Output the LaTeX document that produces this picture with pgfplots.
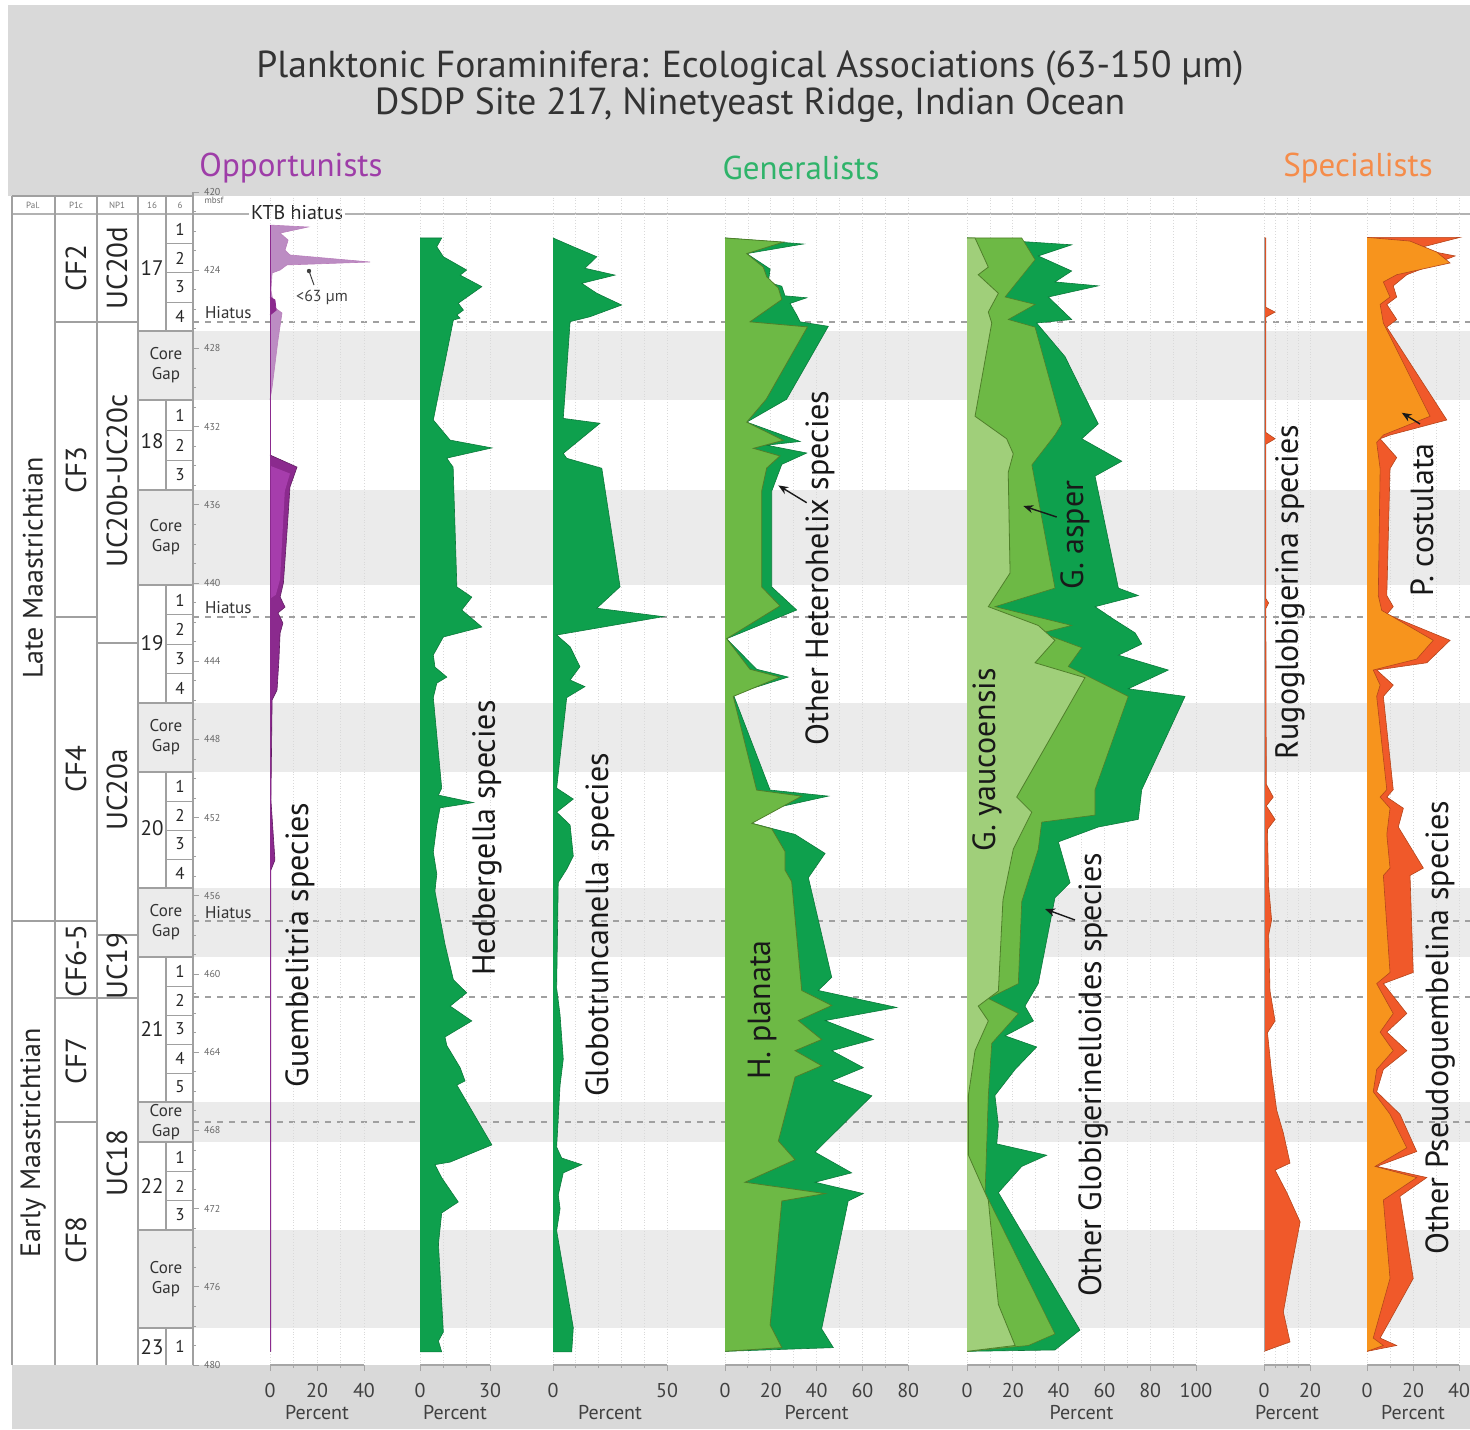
\documentclass[border=0pt]{standalone}
\usepackage{pgfplots}
\pgfplotsset{compat=1.18}
\usepackage{fontspec}
\setmainfont{PT Sans}
\usetikzlibrary{arrows.meta}
\definecolor{topgray}{HTML}{D9D9D9}
\definecolor{bandgray}{HTML}{EBEBEB}
\definecolor{sline}{HTML}{A0A0A0}
\definecolor{gdark}{HTML}{0EA04D}
\definecolor{gline}{HTML}{0B7A3B}
\definecolor{glight}{HTML}{6DB945}
\definecolor{gpale}{HTML}{A0CF7A}
\definecolor{golive}{HTML}{4F7F2A}
\definecolor{purD}{HTML}{8B2A8E}
\definecolor{purM}{HTML}{A63DAC}
\definecolor{purL}{HTML}{BC8CC3}
\definecolor{oraD}{HTML}{F0592A}
\definecolor{oraL}{HTML}{F7941D}
\definecolor{oraline}{HTML}{B5461C}
\definecolor{tpurple}{HTML}{9E3DA8}
\definecolor{tgreen}{HTML}{2FB36A}
\definecolor{torange}{HTML}{F58C4A}
\newcommand{\fs}[1]{\fontsize{#1}{#1}\selectfont}
\pgfplotsset{
  panel/.style={scale only axis, height=586.5pt, ymin=420, ymax=480, y dir=reverse,
    axis y line=none, axis x line*=bottom, clip=false, anchor=north west,
    tick align=outside, major tick length=3pt, minor tick length=1.6pt,
    x axis line style={gray!70, line width=0.6pt},
    tick style={gray!70, line width=0.5pt},
    /pgf/number format/assume math mode=true,
    xticklabel style={font=\fs{10}, text=black!75, yshift=-2.5pt},
    xlabel={Percent}, xlabel style={font=\fs{10}, text=black!75, yshift=3pt},
    xmajorgrids, xminorgrids,
    major grid style={gray!30, densely dotted, line width=0.4pt},
    minor grid style={gray!30, densely dotted, line width=0.4pt},
  },
}
\begin{document}
\begin{tikzpicture}
\useasboundingbox (0,0) rectangle (735pt,-714.5pt);
\begin{scope}[x=0.5pt,y=-0.5pt]
 \fill[topgray] (8,5) rectangle (1470,196);
 \fill[topgray] (12,1365) rectangle (1470,1429);
 \coordinate (BG) at (138,192);
 \coordinate (DP) at (192,192);
 \coordinate (P1) at (270,192);
 \coordinate (P2) at (420,192);
 \coordinate (P3) at (553,192);
 \coordinate (P4) at (725,192);
 \coordinate (P5) at (967,192);
 \coordinate (P6) at (1264,192);
 \coordinate (P7) at (1367,192);
\end{scope}
% background bands and hiatus lines
\begin{axis}[at={(BG)}, anchor=north west, scale only axis, width=666pt, height=586.5pt,
  xmin=138, xmax=1470, ymin=420, ymax=480, y dir=reverse, hide axis, clip=false]
\addplot[fill=bandgray, draw=none] coordinates {(138,427.11) (1470,427.11) (1470,430.64) (138,430.64)};
\addplot[fill=bandgray, draw=none] coordinates {(138,435.24) (1470,435.24) (1470,440.10) (138,440.10)};
\addplot[fill=bandgray, draw=none] coordinates {(138,446.14) (1470,446.14) (1470,449.67) (138,449.67)};
\addplot[fill=bandgray, draw=none] coordinates {(138,455.60) (1470,455.60) (1470,459.13) (138,459.13)};
\addplot[fill=bandgray, draw=none] coordinates {(138,466.55) (1470,466.55) (1470,468.59) (138,468.59)};
\addplot[fill=bandgray, draw=none] coordinates {(138,473.10) (1470,473.10) (1470,478.11) (138,478.11)};
\addplot[sline, line width=0.6pt, dash pattern=on 3pt off 3pt] coordinates {(193,426.65) (1470,426.65)};
\addplot[sline, line width=0.6pt, dash pattern=on 3pt off 3pt] coordinates {(193,441.74) (1470,441.74)};
\addplot[sline, line width=0.6pt, dash pattern=on 3pt off 3pt] coordinates {(193,457.29) (1470,457.29)};
\addplot[sline, line width=0.6pt, dash pattern=on 3pt off 3pt] coordinates {(193,461.18) (1470,461.18)};
\addplot[sline, line width=0.6pt, dash pattern=on 3pt off 3pt] coordinates {(193,467.57) (1470,467.57)};
\end{axis}
% stratigraphic columns
\begin{scope}[x=0.5pt,y=-0.5pt]
 \draw[sline, line width=0.7pt] (12,196) -- (193,196);
 \draw[gray!60, line width=1pt] (12,214) -- (1470,214);
 \foreach \xx in {12,55,97,138,193} \draw[sline, line width=0.7pt] (\xx,196) -- (\xx,1365);
 \draw[sline, line width=0.7pt] (166,196) -- (166,331) (166,400) -- (166,490) (166,585) -- (166,703)
   (166,772) -- (166,888) (166,957) -- (166,1102) (166,1142) -- (166,1230) (166,1328) -- (166,1365);
 \draw[sline, line width=0.7pt] (12,921) -- (97,921) (55,322) -- (138,322) (55,617) -- (97,617)
   (97,643) -- (138,643) (97,935) -- (138,935) (55,998) -- (138,998) (55,1122) -- (97,1122);
 \foreach \yy in {331,400,490,585,703,772,888,957,1102,1142,1230,1328} \draw[sline, line width=0.7pt] (138,\yy) -- (193,\yy);
 \foreach \yy in {243,272,302,430,460,614.5,644,673.5,801,830,859,986,1015,1044,1073,1171.3,1200.7} \draw[sline, line width=0.5pt] (166,\yy) -- (193,\yy);
 \foreach \xx/\tt in {33/Pal.,76/P1c,117/NP1,152/16,180/6} \node[font=\fs{4.5}, text=black!55] at (\xx,205) {\tt};
 \node[rotate=90, font=\fs{14}, text=black!85] at (33,568) {Late Maastrichtian};
 \node[rotate=90, font=\fs{14}, text=black!85] at (33,1143) {Early Maastrichtian};
 \foreach \yy/\tt in {268/CF2,470/CF3,769/CF4,961/CF6-5,1061/CF7,1240/CF8} \node[rotate=90, font=\fs{14.5}, text=black!85] at (76,\yy) {\tt};
 \foreach \yy/\tt in {268/UC20d,481/UC20b-UC20c,790/UC20a,966/UC19,1163/UC18} \node[rotate=90, font=\fs{14.5}, text=black!85] at (117,\yy) {\tt};
 \foreach \yy/\tt in {268/17,441/18,643/19,828/20,1029/21,1186/22,1347/23} \node[font=\fs{10.5}, text=black!85] at (152,\yy) {\tt};
 \foreach \yy/\tt in {229/1,258/2,287/3,316/4,415/1,445/2,475/3,600/1,629/2,659/3,688/4,786/1,815/2,844/3,873/4,971/1,1000/2,1029/3,1058/4,1087/5,1157/1,1186/2,1215/3,1346/1}
   \node[font=\fs{8.5}, text=black!85] at (180,\yy) {\tt};
 \foreach \yy in {365,537,737,922,1122,1279} \node[align=center, font=\fontsize{8.5}{10}\selectfont, text=black!80] at (166,\yy) {Core\\Gap};
 \node[anchor=west, font=\fs{8.5}, text=black!80] at (198,313) {Hiatus};
 \node[anchor=west, font=\fs{8.5}, text=black!80] at (198,608) {Hiatus};
 \node[anchor=west, font=\fs{8.5}, text=black!80] at (198,913) {Hiatus};
 \node[fill=white, inner sep=1pt, font=\fs{10}, text=black!85] at (297,213) {KTB hiatus};
 \node[font=\fs{4.5}, text=black!60] at (214,200) {mbsf};
\end{scope}
% depth scale
\begin{axis}[at={(DP)}, anchor=north west, scale only axis, width=0.5pt, height=586.5pt,
  xmin=0, xmax=1, ymin=420, ymax=480, y dir=reverse, axis x line=none, axis y line*=right,
  ytick={420,424,...,480}, minor y tick num=3, tick align=outside, major tick length=3pt, minor tick length=1.5pt,
  y axis line style={sline, line width=0.7pt}, tick style={sline, line width=0.4pt},
  /pgf/number format/assume math mode=true, /pgf/number format/1000 sep={},
  yticklabel style={font=\fs{5}, text=black!60, xshift=-1pt}, clip=false]
\addplot[draw=none] coordinates {(0,420) (0,480)};
\end{axis}
% Panel 1: Guembelitria
\begin{axis}[panel, at={(P1)}, width=47pt, xmin=0, xmax=40, xtick={0,20,40}, minor xtick={10,30}]
\addplot[fill=purL, draw=purD!60, line width=0.3pt] coordinates {(0,421.69) (16.2,421.79) (4.3,422.10) (7.7,422.46) (6.4,422.97) (8.5,423.22) (42.6,423.58) (7.2,423.73) (4.3,423.99) (0.9,424.14) (0.4,425.01) (1.7,425.88) (5.1,426.19) (3.4,427.57) (0.9,429.97) (0,430.64)};
\addplot[fill=purD, draw=purD] coordinates {(0,425.37) (2.1,425.52) (2.6,426.04) (0,426.29)};
\addplot[fill=purD, draw=purD!70!black, line width=0.3pt] coordinates {(0,433.45) (11.5,434.07) (8.5,435.09) (7.2,437.44) (5.7,440.00) (4.3,440.72) (6.4,441.23) (3.4,441.53) (5.5,442.05) (4.3,442.56) (3.8,443.94) (3.0,445.47) (0.9,445.98) (0.4,451.10) (2.1,454.17) (0.4,454.68) (0.4,479.30) (0,479.30)};
\addplot[fill=purM, draw=none] coordinates {(0,434.0) (8.5,434.4) (6.3,435.3) (5.3,437.5) (4.3,439.8) (2.5,440.6) (0,440.8)};
\addplot[purD, line width=0.5pt] coordinates {(0,421.69) (0,479.30)};
\end{axis}
% Panel 2: Hedbergella
\begin{axis}[panel, at={(P2)}, width=35pt, xmin=0, xmax=30, xtick={0,30}, minor xtick={10,20}]
\addplot[fill=gdark, draw=gline, line width=0.3pt] coordinates {(0,422.35) (9.3,422.35) (7.2,422.80) (10.0,423.31) (20.0,423.99) (17.2,424.25) (26.5,424.84) (16.4,425.69) (18.6,426.04) (15.8,426.29) (17.2,426.45) (14.3,426.55) (5.7,431.66) (12.9,432.69) (30.8,433.09) (11.5,433.61) (12.9,433.86) (14.2,434.07) (15.8,440.20) (22.2,440.72) (17.9,441.38) (26.5,442.25) (10.0,442.76) (5.7,443.68) (6.4,444.30) (11.5,444.81) (7.2,445.12) (5.7,445.86) (9.3,450.49) (7.9,450.85) (22.9,451.23) (8.6,451.50) (7.2,452.38) (5.7,453.76) (7.2,454.89) (6.4,455.76) (10.7,458.47) (14.3,460.29) (20.0,460.96) (12.9,461.64) (22.2,462.40) (10.7,463.22) (11.5,463.66) (17.2,464.79) (19.3,465.47) (15.8,465.68) (30.8,468.74) (12.9,469.62) (6.4,469.75) (9.3,470.42) (16.4,471.66) (9.3,472.22) (7.9,473.81) (10.0,478.31) (7.9,478.77) (9.3,479.33) (0,479.33)};
\end{axis}
% Panel 3: Globotruncanella
\begin{axis}[panel, at={(P3)}, width=57pt, xmin=0, xmax=50, xtick={0,50}, minor xtick={10,20,30,40}]
\addplot[fill=gdark, draw=gline, line width=0.3pt] coordinates {(0,422.35) (8.9,422.80) (19.2,423.31) (14.0,423.90) (27.2,424.25) (12.6,424.67) (19.2,425.18) (30.1,425.78) (16.2,426.38) (7.5,426.63) (4.5,431.58) (20.6,431.83) (4.5,433.37) (6.0,433.62) (21.4,434.13) (29.4,440.19) (19.2,441.29) (48.4,441.72) (1.6,442.66) (7.5,443.26) (11.8,444.28) (7.5,444.96) (14.0,445.30) (6.0,445.86) (1.6,450.49) (8.9,451.05) (1.6,451.72) (7.5,452.38) (8.9,453.97) (6.0,454.64) (2.3,455.32) (1.6,460.72) (3.1,462.10) (4.5,464.35) (3.1,465.68) (1.6,468.85) (3.8,469.41) (12.6,469.75) (4.5,470.17) (2.3,471.30) (3.1,472.00) (1.6,473.13) (8.9,478.09) (8.2,479.33) (0,479.33)};
\end{axis}
% Panel 4: Heterohelix
\begin{axis}[panel, at={(P4)}, width=91.6pt, xmin=0, xmax=80, xtick={0,20,...,80}, minor xtick={10,30,50,70}]
\addplot[fill=gdark, draw=gline, line width=0.3pt] coordinates {(0,422.35) (34.2,422.66) (9.5,423.15) (19.7,423.94) (18.9,424.62) (24.8,424.82) (26.2,425.31) (35.7,425.41) (28.4,425.70) (31.3,426.29) (32.8,426.64) (45.1,426.87) (26.9,430.60) (9.5,431.77) (32.8,432.76) (18.2,432.95) (35.7,433.35) (24.8,433.93) (20.4,435.30) (20.4,440.20) (31.3,441.38) (0.7,442.85) (13.8,444.41) (27.6,444.81) (3.6,445.69) (19.7,450.59) (45.1,450.90) (21.1,451.52) (11.7,452.29) (30.6,452.86) (43.7,453.83) (36.4,455.07) (46.6,460.17) (40.7,460.84) (75.0,461.71) (43.7,462.38) (64.8,463.35) (46.6,463.92) (60.4,464.79) (46.6,465.46) (64.1,466.23) (39.3,469.11) (55.3,470.17) (39.3,470.65) (60.4,471.23) (53.8,471.61) (42.2,478.15) (47.3,479.11) (0,479.30)};
\addplot[fill=glight, draw=golive, line width=0.4pt] coordinates {(0,422.35) (25.5,422.56) (9.5,423.15) (16.7,423.84) (18.2,424.33) (23.3,424.91) (24.8,425.50) (10.9,426.64) (36.0,426.90) (18.0,430.60) (9.5,431.77) (25.5,432.70) (12.4,433.11) (24.0,433.50) (18.2,434.12) (16.0,435.30) (16.0,440.20) (24.0,441.17) (0.7,442.85) (10.9,444.41) (24.0,444.81) (3.6,445.80) (13.8,450.59) (33.5,450.90) (11.7,452.29) (20.4,452.57) (26.2,453.73) (26.2,454.68) (29.1,455.27) (33.5,460.84) (46.6,461.61) (32.0,462.38) (42.2,463.35) (30.6,463.92) (42.2,464.69) (30.6,465.27) (23.3,468.54) (30.6,469.50) (8.7,470.65) (43.7,471.23) (24.8,471.61) (19.7,477.95) (24.8,479.11) (0,479.30)};
\end{axis}
% Panel 5: Globigerinelloides
\begin{axis}[panel, at={(P5)}, width=114.5pt, xmin=0, xmax=100, xtick={0,20,...,100}, minor xtick={10,30,50,70,90}]
\addplot[fill=gdark, draw=gline, line width=0.3pt] coordinates {(0,422.35) (45.7,422.70) (31.1,423.27) (45.7,424.04) (38.4,424.60) (57.3,424.80) (35.5,425.37) (45.7,426.52) (30.4,426.70) (42.8,428.42) (57.3,431.86) (50.1,432.62) (67.6,433.77) (55.9,434.53) (66.1,440.26) (74.8,440.64) (55.9,441.21) (63.2,441.79) (73.4,442.55) (76.3,443.12) (66.1,443.69) (87.9,444.45) (70.4,445.41) (95.2,445.80) (76.3,450.57) (74.8,452.09) (57.3,452.48) (39.9,453.24) (45.0,455.33) (38.4,456.10) (31.1,460.49) (25.3,461.64) (29.0,462.40) (16.6,463.16) (30.4,463.73) (21.0,464.88) (12.2,466.21) (13.7,467.74) (13.0,468.69) (34.8,469.27) (23.9,469.84) (13.7,471.18) (49.3,478.21) (38.4,479.23) (0,479.30)};
\addplot[fill=glight, draw=golive, line width=0.3pt] coordinates {(0,422.35) (23.9,422.35) (29.7,423.46) (16.6,425.37) (29.7,425.75) (18.0,426.52) (29.7,426.91) (41.4,431.86) (38.4,432.43) (28.3,433.96) (38.4,440.26) (12.2,441.21) (45.7,442.17) (32.6,442.55) (50.1,443.31) (44.2,444.27) (70.4,445.80) (55.9,450.57) (55.9,451.87) (32.6,452.23) (31.1,453.62) (23.9,456.29) (22.4,460.49) (9.3,461.25) (22.4,462.02) (10.8,463.54) (9.3,466.21) (7.9,471.18) (38.4,478.41) (26.8,479.00) (0,479.30)};
\addplot[fill=gpale, draw=golive, line width=0.4pt] coordinates {(0,422.35) (3.5,422.35) (9.3,423.84) (4.9,424.23) (13.7,425.18) (9.3,426.14) (10.8,426.70) (3.5,431.47) (17.3,432.62) (20.2,433.39) (18.0,434.34) (18.8,439.49) (9.3,441.21) (31.1,442.17) (38.4,442.93) (29.7,444.08) (51.5,444.84) (21.7,450.95) (28.3,451.72) (20.2,453.62) (15.7,456.21) (13.7,460.87) (4.9,461.64) (9.3,462.40) (3.5,463.92) (0.6,466.21) (0.6,469.26) (9.3,471.56) (13.7,476.90) (21.0,479.00) (0,479.30)};
\end{axis}
% Panel 6: Rugoglobigerina
\begin{axis}[panel, at={(P6)}, width=23pt, xmin=0, xmax=20, xtick={0,20}, minor xtick={5,10,15}]
\addplot[fill=oraD, draw=oraline, line width=0.3pt] coordinates {(0,422.35) (0.8,422.35) (0.8,425.90) (4.8,426.14) (0.8,426.40) (0.8,432.30) (4.8,432.62) (0.8,432.90) (0.8,440.80) (2.0,441.02) (0.8,441.30) (1.0,450.30) (4.0,450.95) (1.0,451.40) (4.8,452.09) (1.5,452.60) (2.0,455.50) (3.3,457.24) (2.0,458.00) (2.6,460.87) (4.8,462.40) (1.5,463.00) (3.3,465.06) (5.5,466.96) (8.4,468.13) (11.3,469.67) (4.8,470.03) (9.9,471.18) (15.7,472.68) (11.3,475.38) (8.4,477.29) (11.3,478.82) (0,479.30)};
\addplot[gray!70, line width=0.4pt] coordinates {(0,422.35) (0,479.30)};
\end{axis}
% Panel 7: Pseudoguembelina
\begin{axis}[panel, at={(P7)}, width=46pt, xmin=0, xmax=40, xtick={0,20,40}, minor xtick={10,30}]
\addplot[fill=oraD, draw=oraline, line width=0.3pt] coordinates {(0,422.32) (40.4,422.32) (21.6,422.89) (38.3,423.27) (17.3,424.23) (11.4,424.80) (12.9,425.37) (8.6,425.75) (12.9,426.52) (8.6,426.91) (34.7,431.66) (10.0,432.43) (5.7,432.62) (12.9,433.58) (10.0,434.15) (8.6,440.64) (11.4,441.21) (8.6,441.60) (36.1,442.93) (26.0,444.08) (4.2,444.45) (11.4,445.22) (7.1,445.80) (11.4,450.57) (8.6,450.95) (15.8,451.52) (13.6,452.48) (24.5,454.58) (18.7,454.96) (20.1,459.92) (7.1,460.49) (17.3,462.02) (8.6,462.97) (17.3,463.92) (7.1,464.88) (4.2,466.02) (14.3,467.17) (21.6,469.08) (4.2,469.84) (26.0,470.41) (14.3,471.37) (20.1,475.57) (5.7,478.62) (12.9,479.00) (0,479.30)};
\addplot[fill=oraL, draw=oraline, line width=0.3pt] coordinates {(0,422.32) (18.7,422.51) (30.3,423.07) (36.1,423.63) (12.9,424.23) (7.1,424.60) (10.0,425.37) (5.7,425.75) (7.1,426.70) (27.4,431.47) (7.1,432.43) (4.2,432.81) (5.7,434.15) (4.9,440.64) (6.4,441.40) (28.8,442.93) (21.6,443.89) (2.7,444.45) (5.7,445.22) (4.2,445.80) (8.6,450.57) (5.7,450.95) (10.0,451.52) (8.6,452.86) (10.0,454.58) (7.1,454.96) (10.0,459.92) (4.2,460.49) (11.4,462.02) (5.7,462.97) (11.4,463.92) (4.2,464.88) (2.7,466.02) (10.0,467.17) (17.3,468.89) (3.5,469.84) (21.6,470.41) (7.1,471.56) (10.0,475.57) (2.7,478.62) (7.1,479.00) (0,479.30)};
\end{axis}
% titles and annotations
\begin{scope}[x=0.5pt,y=-0.5pt]
 \node[font=\fs{18.8}, text=black!80] at (750,68) {Planktonic Foraminifera: Ecological Associations (63-150 µm)};
 \node[font=\fs{18.8}, text=black!80] at (750,105) {DSDP Site 217, Ninetyeast Ridge, Indian Ocean};
 \node[font=\fs{16.5}, text=tpurple] at (291,168) {Opportunists};
 \node[font=\fs{16.5}, text=tgreen] at (801,168) {Generalists};
 \node[font=\fs{16.5}, text=torange] at (1358,168) {Specialists};
 \fill[black!75] (309,271) circle (2.2);
 \draw[black!75, line width=0.5pt] (309,271) -- (314,285);
 \node[font=\fs{8}, text=black!75] at (322,297) {<63 µm};
 \node[rotate=90, font=\fs{16}, text=black!90] at (300,945) {Guembelitria species};
 \node[rotate=90, font=\fs{16}, text=black!90] at (487,838) {Hedbergella species};
 \node[rotate=90, font=\fs{16}, text=black!90] at (600,925) {Globotruncanella species};
 \node[rotate=90, font=\fs{16}, text=black!90] at (820,568) {Other Heterohelix species};
 \node[rotate=90, font=\fs{16}, text=black!90] at (762,1010) {H. planata};
 \node[rotate=90, font=\fs{16}, text=black!90] at (987,760) {G. yaucoensis};
 \node[rotate=90, font=\fs{16}, text=black!90] at (1075,535) {G. asper};
 \node[rotate=90, font=\fs{16}, text=black!90] at (1093,1075) {Other Globigerinelloides species};
 \node[rotate=90, font=\fs{16}, text=black!90] at (1290,592) {Rugoglobigerina species};
 \node[rotate=90, font=\fs{16}, text=black!90] at (1422,520) {P. costulata};
 \node[rotate=90, font=\fs{16}, text=black!90] at (1440,1028) {Other Pseudoguembelina species};
 \draw[-{Stealth[length=5pt,width=4pt]}, line width=0.7pt, black!90] (806.7,502.7) -- (778.3,485.4);
 \draw[-{Stealth[length=5pt,width=4pt]}, line width=0.7pt, black!90] (1056.7,517) -- (1023.3,506);
 \draw[-{Stealth[length=5pt,width=4pt]}, line width=0.7pt, black!90] (1075,920) -- (1045,909);
 \draw[-{Stealth[length=5pt,width=4pt]}, line width=0.7pt, black!90] (1420,424) -- (1401.7,412.7);
\end{scope}
\end{tikzpicture}
\end{document}
